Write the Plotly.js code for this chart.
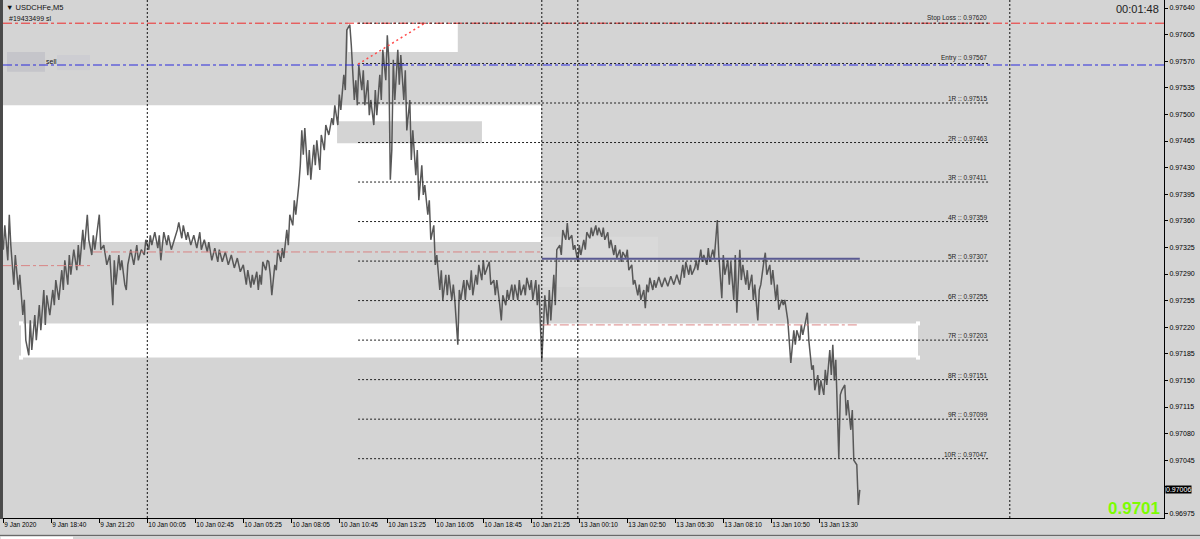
<!DOCTYPE html>
<html><head><meta charset="utf-8">
<script src="https://cdn.plot.ly/plotly-3.0.1.min.js"></script>
<style>html,body{margin:0;padding:0;background:#d4d4d4;overflow:hidden}#chart{width:1200px;height:539px;}</style>
</head><body><div id="chart"></div>
<script>
// ---- price path (bar index, price), M5 bars ----
const day9 = [[0,.97322],[1,.97354],[3,.97308],[4,.97368],[5,.97328],[7,.97276],[8,.97315],[10,.97269],[11,.97289],[13,.97236],[14,.97256],[15,.97203],[17,.97183],[18,.97229],[19,.97190],[21,.97236],[22,.97203],[24,.97249],[25,.97216],[27,.97269],[28,.97223],[29,.97262],[31,.97236],[33,.97269],[34,.97249],[35,.97282],[37,.97256],[39,.97295],[40,.97269],[41,.97308],[43,.97276],[44,.97315],[45,.97289],[47,.97322],[49,.97295],[50,.97328],[51,.97302],[53,.97348],[54,.97322],[56,.97368],[57,.97335],[59,.97315],[60,.97341],[61,.97322],[64,.97368],[65,.97322],[67,.97328],[69,.97302],[71,.97315],[73,.97249],[74,.97308],[75,.97276],[77,.97315],[78,.97295],[79,.97308],[81,.97276],[82,.97269],[83,.97302],[85,.97322],[87,.97302],[89,.97328],[90,.97308],[92,.97322],[94,.97315],[95,.97335]];
const day10Morning = [[97,.97322],[98,.97341],[99,.97328],[101,.97345],[103,.97324],[104,.97341],[105,.97308],[107,.97345],[109,.97328],[110,.97341],[112,.97322],[114,.97335],[116,.97348],[117,.97358],[119,.97337],[120,.97354],[122,.97335],[123,.97345],[125,.97328],[127,.97341],[129,.97324],[131,.97345],[132,.97322],[134,.97335],[136,.97319],[137,.97332],[139,.97308],[141,.97324],[143,.97306],[144,.97322],[146,.97306],[148,.97319],[150,.97302],[152,.97315],[154,.97298],[156,.97311],[158,.97293],[160,.97302],[162,.97276],[163,.97295],[165,.97272],[166,.97289],[167,.97276],[169,.97293],[170,.97269],[171,.97289],[172,.97276],[173,.97306],[175,.97295],[176,.97308],[177,.97306],[178,.97289],[179,.97262],[181,.97302],[182,.97295],[183,.97322],[185,.97306],[186,.97324],[187,.97311],[189,.97348],[190,.97328],[191,.97368],[193,.97354],[194,.97387],[195,.97368],[197,.97407]];
const day10Rally = [[198,.97433],[199,.97479],[200,.97447],[201,.97482],[203,.97420],[204,.97453],[205,.97414],[207,.97460],[208,.97433],[209,.97466],[211,.97427],[212,.97473],[214,.97453],[215,.97486],[217,.97473],[219,.97495],[220,.97486],[221,.97512],[223,.97486],[224,.97526],[225,.97506],[227,.97552],[228,.97532],[229,.97611],[231,.97618],[232,.97591],[233,.97552],[234,.97519],[235,.97545],[236,.97512]];
const day10Afternoon = [[237,.97565],[239,.97532],[240,.97558],[241,.97512],[243,.97545],[244,.97499],[245,.97519],[247,.97486],[248,.97532],[249,.97499],[251,.97552],[252,.97519],[253,.97585],[255,.97545],[256,.97604],[257,.97572],[258,.97414],[259,.97453],[260,.97572],[261,.97519],[263,.97585],[264,.97539],[265,.97578],[267,.97519],[268,.97558],[269,.97479],[271,.97519],[272,.97440],[273,.97479],[275,.97420],[276,.97453],[277,.97387],[279,.97433],[280,.97394],[281,.97407],[283,.97368],[284,.97387],[285,.97335],[287,.97354],[288,.97302],[289,.97315],[291,.97269],[292,.97295],[293,.97256],[295,.97289],[296,.97262],[297,.97289],[299,.97256],[300,.97276],[301,.97256],[303,.97197],[304,.97269],[305,.97256],[307,.97282],[308,.97256],[309,.97282],[311,.97269],[312,.97295],[313,.97262],[315,.97289],[316,.97276],[317,.97302],[319,.97282],[320,.97308],[321,.97289],[323,.97302],[324,.97306],[325,.97276],[327,.97282],[328,.97262],[329,.97282],[331,.97249],[332,.97229],[333,.97262],[335,.97249],[336,.97269],[337,.97256],[339,.97276],[340,.97256],[341,.97276],[343,.97256],[344,.97282],[345,.97262],[347,.97276],[348,.97262],[349,.97285],[351,.97269],[352,.97282],[353,.97256],[355,.97282],[356,.97249],[357,.97276],[359,.97177]];
const day13Range = [[360,.97216],[361,.97262],[363,.97223],[364,.97269],[365,.97229],[367,.97289],[368,.97249],[369,.97322],[371,.97328],[372,.97315],[373,.97348],[375,.97335],[376,.97357],[377,.97335],[379,.97341],[380,.97322],[381,.97328],[383,.97306],[384,.97328],[385,.97315],[387,.97335],[388,.97322],[389,.97345],[391,.97337],[392,.97351],[393,.97340],[395,.97354],[396,.97341],[397,.97351],[399,.97339],[400,.97351],[401,.97335],[403,.97345],[404,.97324],[405,.97335],[407,.97315],[408,.97328],[409,.97311],[411,.97322],[412,.97306],[413,.97319],[415,.97311],[416,.97322],[417,.97295],[419,.97302],[420,.97276],[421,.97282],[423,.97262],[424,.97276],[425,.97256],[427,.97269],[428,.97245],[429,.97276],[430,.97266],[431,.97285],[433,.97269],[434,.97282],[435,.97272],[437,.97286],[439,.97273],[441,.97285],[443,.97274],[445,.97287],[447,.97276],[449,.97289],[451,.97276],[453,.97302],[454,.97285],[455,.97306],[457,.97289],[458,.97302],[459,.97289],[461,.97298],[462,.97308],[463,.97295],[465,.97322],[466,.97306],[467,.97315],[469,.97302],[470,.97324],[471,.97306],[473,.97322],[474,.97311],[475,.97335],[476,.97361],[477,.97315],[479,.97258],[480,.97315],[481,.97289],[483,.97308],[484,.97276],[485,.97306],[487,.97256],[488,.97315],[489,.97239],[491,.97322],[492,.97282],[493,.97302],[495,.97276],[496,.97295],[497,.97269],[499,.97289],[500,.97256],[501,.97276],[503,.97229],[504,.97269],[505,.97276],[507,.97306],[508,.97318],[509,.97289],[511,.97302],[512,.97276],[513,.97295],[515,.97256],[516,.97276],[517,.97243],[519,.97256],[520,.97249],[521,.97256],[523,.97229],[524,.97203],[525,.97173],[527,.97216],[528,.97197],[529,.97216],[531,.97203],[532,.97223],[533,.97210],[535,.97229],[536,.97239],[537,.97203],[539,.97164]];
const day13Drop = [[540,.97170],[541,.97137],[543,.97157],[544,.97131],[545,.97150],[547,.97131],[548,.97164],[549,.97144],[551,.97190],[552,.97157],[553,.97197],[554,.97150],[555,.97177],[557,.97048],[558,.97131],[559,.97137],[561,.97144],[562,.97104],[563,.97124],[565,.97085],[566,.97111],[567,.97045],[569,.97039],[570,.96986],[571,.97006]];

// ---- axes ----
const timeTickBars = [0,32,64,96,128,160,192,224,256,288,320,352,384,416,448,480,512,544];
const timeTickLabels = ["9 Jan 2020","9 Jan 18:40","9 Jan 21:20","10 Jan 00:05","10 Jan 02:45","10 Jan 05:25","10 Jan 08:05","10 Jan 10:45","10 Jan 13:25","10 Jan 16:05","10 Jan 18:45","10 Jan 21:25","13 Jan 00:10","13 Jan 02:50","13 Jan 05:30","13 Jan 08:10","13 Jan 10:50","13 Jan 13:30"];
const priceTicks = [0.96975,0.97010,0.97045,0.97080,0.97115,0.97150,0.97185,0.97220,0.97255,0.97290,0.97325,0.97360,0.97395,0.97430,0.97465,0.97500,0.97535,0.97570,0.97605,0.97640];

// ---- trade levels ----
const levelNames = ["Stop Loss","Entry","1R","2R","3R","4R","5R","6R","7R","8R","9R","10R"];
const levelPrices = [0.97620,0.97567,0.97515,0.97463,0.97411,0.97359,0.97307,0.97255,0.97203,0.97151,0.97099,0.97047];
const levelBars = [236.5, 656.5];
const stopLossPrice = 0.97620;
const entryPrice = 0.97565;
const currentPrice = 0.97006;

// ---- zones (white rectangles) ----
const zoneStartBar = [-0.2, 229.8, 11.8];
const zoneEndBar   = [358.5, 303, 609.8];
const zoneLow      = [0.97332, 0.97582, 0.97180];
const zoneHigh     = [0.97512, 0.97621, 0.97225];
const innerZoneBars = [222.5, 319.1];
const innerZonePrices = [0.97462, 0.97491];

// ---- other drawn objects ----
const refLineStart = [-0.2, 59.8, 359];
const refLineEnd   = [57.8, 358.5, 571];
const refLinePrice = [0.97301, 0.97319, 0.97223];
const navyLineBars = [359, 571];
const navyLinePrice = 0.97310;
const trendBars = [236.5, 281];
const trendPrices = [0.97566, 0.97620];
const separatorBars = [96, 359, 383, 671];

const path = day9.concat(day10Morning, day10Rally, day10Afternoon, day13Range, day13Drop);
const barIdx = path.map(p => p[0]);
const closes = path.map(p => p[1]);

const BG = '#d4d4d4';
const shapes = [];
for (let i = 0; i < zoneStartBar.length; i++) {
  shapes.push({type:'rect', layer:'below', xref:'x', yref:'y', x0:zoneStartBar[i], x1:zoneEndBar[i], y0:zoneLow[i], y1:zoneHigh[i], fillcolor:'#ffffff', line:{width:0}});
}
shapes.push({type:'rect', layer:'below', xref:'x', yref:'y', x0:innerZoneBars[0], x1:innerZoneBars[1], y0:innerZonePrices[0], y1:innerZonePrices[1], fillcolor:BG, line:{width:0}});
shapes.push({type:'rect', layer:'below', xref:'x', yref:'y', x0:359.1, x1:436.5, y0:0.97273, y1:0.97339, fillcolor:'rgba(255,255,255,0.13)', line:{width:0}});
shapes.push({type:'rect', layer:'below', xref:'x', yref:'y', x0:2.5, x1:27.8, y0:0.97556, y1:0.97582, fillcolor:'#c5c5ca', line:{width:0}});
shapes.push({type:'rect', layer:'below', xref:'x', yref:'y', x0:35.8, x1:57.8, y0:0.97558, y1:0.97578, fillcolor:'#cdcdd2', line:{width:0}});
for (let i = 0; i < refLinePrice.length; i++) {
  shapes.push({type:'line', xref:'x', yref:'y', x0:refLineStart[i], x1:refLineEnd[i], y0:refLinePrice[i], y1:refLinePrice[i], line:{color:'#d98484', width:1, dash:'dashdot'}});
}
shapes.push({type:'line', xref:'x', yref:'y', x0:navyLineBars[0], x1:navyLineBars[1], y0:navyLinePrice, y1:navyLinePrice, line:{color:'#5a5a92', width:2}});
separatorBars.forEach(b => shapes.push({type:'line', xref:'x', yref:'paper', x0:b, x1:b, y0:0, y1:1, line:{color:'#111', width:1, dash:'2px,2px'}}));
shapes.push({type:'line', xref:'paper', yref:'y', x0:0, x1:1, y0:stopLossPrice, y1:stopLossPrice, line:{color:'#ee2a2a', width:1, dash:'dashdot'}});
shapes.push({type:'line', xref:'paper', yref:'y', x0:0, x1:1, y0:entryPrice, y1:entryPrice, line:{color:'#2b2bdc', width:1, dash:'dashdot'}});
levelPrices.forEach(p => shapes.push({type:'line', xref:'x', yref:'y', x0:levelBars[0], x1:levelBars[1], y0:p, y1:p, line:{color:'#222', width:1, dash:'2px,2px'}}));
shapes.push({type:'line', xref:'x', yref:'y', x0:trendBars[0], x1:trendBars[1], y0:trendPrices[0], y1:trendPrices[1], line:{color:'#ff4a4a', width:1.5, dash:'2px,3px'}});
shapes.push({type:'line', xref:'paper', yref:'paper', x0:-0.0013, x1:-0.0013, y0:-0.002, y1:1, line:{color:'#4a4a4a', width:3}});
shapes.push({type:'line', xref:'paper', yref:'paper', x0:-0.01, x1:1.04, y0:-0.0335, y1:-0.0335, line:{color:'#555', width:1}});
shapes.push({type:'rect', xref:'paper', yref:'paper', x0:-0.002, x1:0.0603, y0:-0.036, y1:-0.05, fillcolor:'#ffffff', line:{width:0}});

const annotations = [];
const F = 'Liberation Sans, Arial, sans-serif';
levelNames.forEach((n, i) => annotations.push({xref:'x', yref:'y', x:levelBars[1], y:levelPrices[i], xanchor:'right', yanchor:'bottom', showarrow:false, text:n + ' :: ' + levelPrices[i].toFixed(5), font:{family:F, size:6.5, color:'#1e1e1e'}, borderpad:0}));
annotations.push({xref:'paper', yref:'paper', x:0, y:1, xanchor:'left', yanchor:'top', xshift:1, yshift:-1, showarrow:false, text:'▼ USDCHFe,M5', font:{family:F, size:7.5, color:'#111'}});
annotations.push({xref:'paper', yref:'paper', x:0, y:1 - 18/518, xanchor:'left', yanchor:'middle', xshift:4, showarrow:false, text:'#19433499 sl', font:{family:F, size:7, color:'#111'}});
annotations.push({xref:'x', yref:'y', x:28, y:0.97570, xanchor:'left', yanchor:'middle', showarrow:false, text:'sell', font:{family:F, size:7, color:'#111'}, borderpad:0});
annotations.push({xref:'paper', yref:'paper', x:1, y:1, xanchor:'right', yanchor:'top', xshift:-3, yshift:-1, showarrow:false, text:'00:01:48', font:{family:F, size:11, color:'#222'}});
annotations.push({xref:'paper', yref:'paper', x:1, y:0, xanchor:'right', yanchor:'bottom', xshift:-2, yshift:-2, showarrow:false, text:'<b>0.9701</b>', font:{family:F, size:17, color:'#7cfc00'}});
annotations.push({xref:'paper', yref:'y', x:1, y:currentPrice, xanchor:'left', yanchor:'middle', xshift:1, showarrow:false, text:currentPrice.toFixed(5), font:{family:F, size:7, color:'#fff'}, bgcolor:'#000', borderpad:0});

const traces = [
  {type:'scatter', mode:'lines', x:barIdx, y:closes, line:{color:'#585858', width:1.5}, hoverinfo:'skip', showlegend:false},
  {type:'scatter', mode:'markers', x:[zoneStartBar[2], zoneStartBar[2], zoneEndBar[2], zoneEndBar[2]], y:[zoneLow[2], zoneHigh[2], zoneLow[2], zoneHigh[2]], marker:{symbol:'square', size:4, color:'#ffffff'}, hoverinfo:'skip', showlegend:false}
];

// the 0.97010 tick label is covered by the current-price box in the reference
const priceTickText = priceTicks.map(v => Math.abs(v - currentPrice) < 0.00012 ? '' : v.toFixed(5));

const layout = {
  width:1200, height:539,
  margin:{l:3, r:36, t:0, b:21, pad:0},
  paper_bgcolor:BG, plot_bgcolor:BG,
  font:{family:F, size:7, color:'#000'},
  showlegend:false,
  xaxis:{range:[-0.2, 773.8], tickmode:'array', tickvals:timeTickBars, ticktext:timeTickLabels, ticks:'outside', ticklen:4, tickcolor:'#000', ticklabelposition:'outside right', tickfont:{family:F, size:6.5, color:'#000'}, showline:true, linecolor:'#000', linewidth:1, showgrid:false, zeroline:false, fixedrange:true},
  yaxis:{side:'right', range:[0.9696895, 0.9765053], tickmode:'array', tickvals:priceTicks, ticktext:priceTickText, ticks:'outside', ticklen:3, tickcolor:'#000', tickfont:{family:F, size:7, color:'#000'}, showline:true, linecolor:'#000', linewidth:1, showgrid:false, zeroline:false, fixedrange:true},
  shapes:shapes,
  annotations:annotations
};
Plotly.newPlot('chart', traces, layout, {displayModeBar:false, staticPlot:true});
</script>
</body></html>
